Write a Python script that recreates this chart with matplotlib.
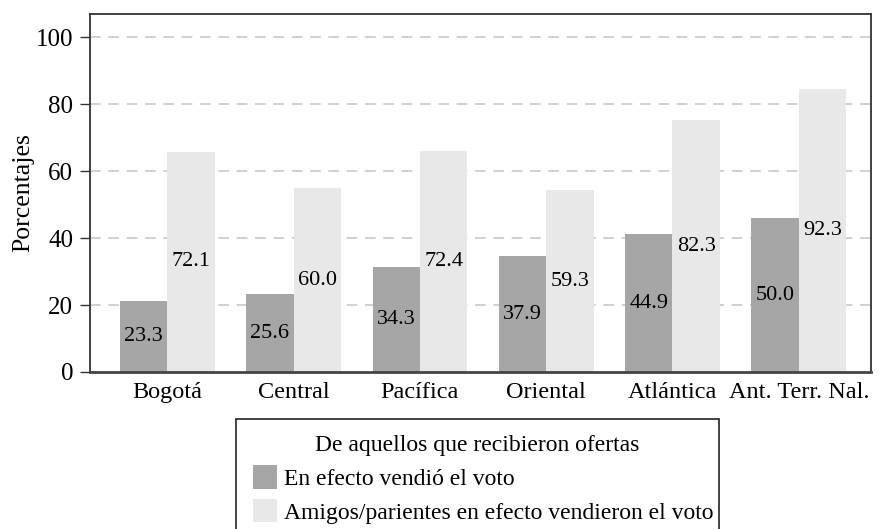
import matplotlib
matplotlib.use('Agg')
import matplotlib.pyplot as plt
from matplotlib.patches import Patch
import numpy as np

regions = ["Bogotá", "Central", "Pacífica", "Oriental", "Atlántica", "Ant. Terr. Nal."]
vendio_height = [21.2, 23.2, 31.3, 34.6, 41.1, 45.9]
amigos_height = [65.9, 54.9, 66.2, 54.3, 75.2, 84.5]
vendio_labels = ["23.3", "25.6", "34.3", "37.9", "44.9", "50.0"]
amigos_labels = ["72.1", "60.0", "72.4", "59.3", "82.3", "92.3"]
yticks = [0, 20, 40, 60, 80, 100]
series_names = ["En efecto vendió el voto",
                "Amigos/parientes en efecto vendieron el voto"]
legend_title = "De aquellos que recibieron ofertas"
ylabel = "Porcentajes"

plt.rcParams['font.family'] = ['Liberation Serif', 'DejaVu Serif']
FS_VAL = 16
FS_TICK = 17.5
FS_LEG = 17

W, H = 880, 529
fig = plt.figure(figsize=(W / 100, H / 100), dpi=100)
ax = fig.add_axes([90 / W, (H - 372) / H, (871 - 90) / W, (372 - 14) / H])

dark = '#a5a6a5'
light = '#e8e8e8'
x = np.arange(len(regions))
w = 0.375
ax.bar(x - w / 2, vendio_height, w, color=dark, zorder=2)
ax.bar(x + w / 2, amigos_height, w, color=light, zorder=2)
for xi, h, lab in zip(x, vendio_height, vendio_labels):
    ax.text(xi - w / 2, h / 2, lab, ha='center', va='center', fontsize=FS_VAL, zorder=3)
for xi, h, lab in zip(x, amigos_height, amigos_labels):
    ax.text(xi + w / 2, h / 2, lab, ha='center', va='center', fontsize=FS_VAL, zorder=3)

ax.set_xlim(-0.612, 5.572)
ax.set_ylim(0, 107)
ax.set_yticks(yticks)
ax.set_yticklabels([str(t) for t in yticks], fontsize=18)
ax.set_xticks(x)
ax.set_xticklabels(regions, fontsize=FS_TICK)
ax.tick_params(axis='x', length=0, pad=7)
ax.tick_params(axis='y', length=7, width=1, pad=5, color='#333333')
for t in yticks[1:]:
    ax.axhline(t, color='#c4c4c4', lw=1.1, linestyle=(0, (7, 5)), zorder=1)
for s in ax.spines.values():
    s.set_color('#333333')
    s.set_linewidth(1.3)
ax.spines['bottom'].set_linewidth(2)
ax.spines['bottom'].set_color('#444444')
ax.set_ylabel(ylabel, fontsize=18.5, labelpad=1)

handles = [Patch(facecolor=dark, edgecolor='none'), Patch(facecolor=light, edgecolor='none')]
leg = fig.legend(handles, series_names, title=legend_title, loc='upper left',
                 bbox_to_anchor=(236 / W, 1 - 424 / H, (719 - 236) / W, 0.01),
                 mode='expand', fontsize=FS_LEG, title_fontsize=FS_LEG, frameon=True,
                 fancybox=False, framealpha=1, edgecolor='#222222',
                 handlelength=1.05, handleheight=1.15, handletextpad=0.3,
                 labelspacing=0.38, borderpad=0.7, borderaxespad=0)
leg.get_frame().set_linewidth(1.2)

fig.savefig('out.png', dpi=100)
